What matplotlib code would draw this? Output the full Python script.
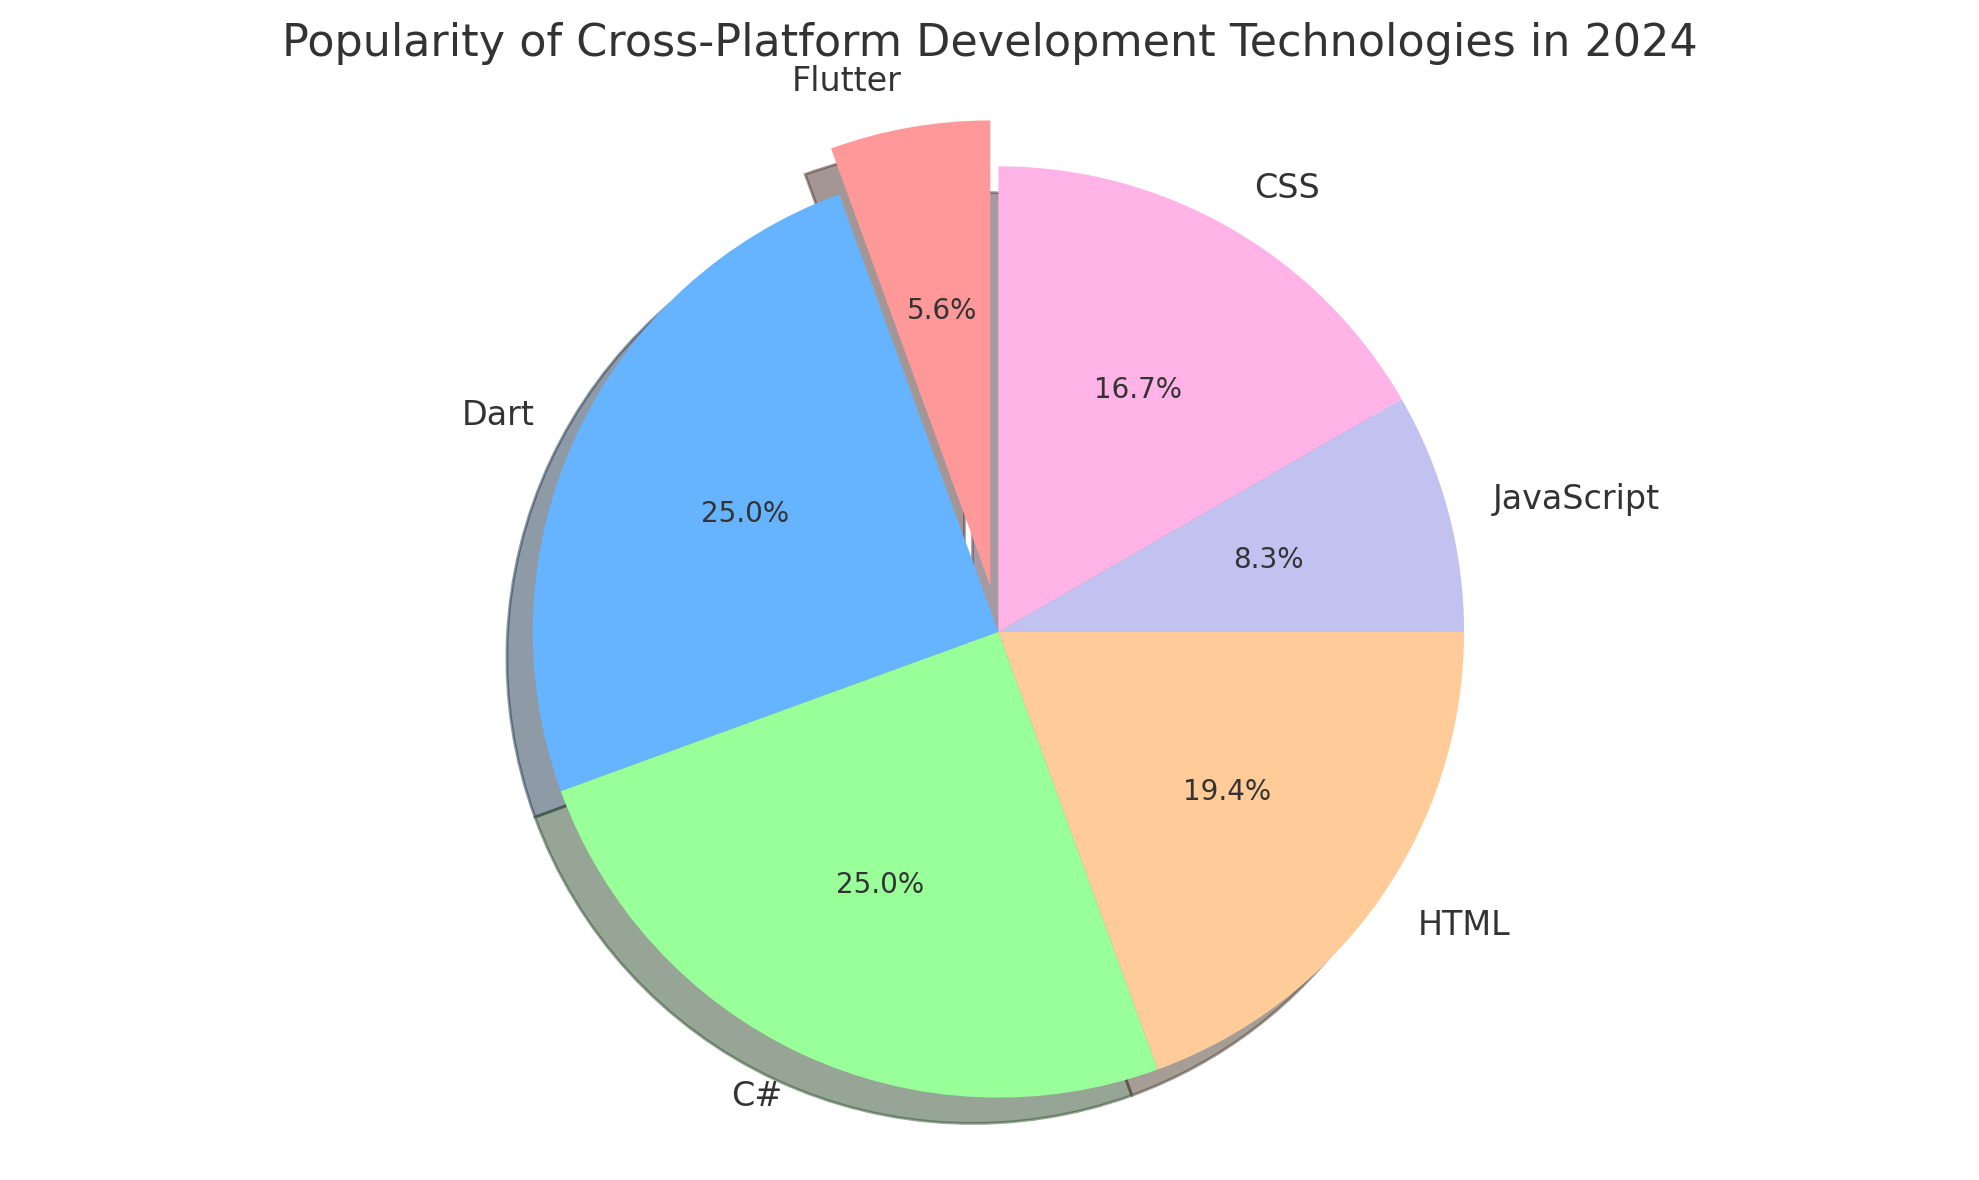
import matplotlib.pyplot as plt

# Dados do gráfico
labels = ['Flutter', 'Dart', 'C#', 'HTML', 'JavaScript', 'CSS']
sizes = [2, 9, 9, 7, 3, 6]
colors = ['#ff9999', '#66b3ff', '#99ff99', '#ffcc99', '#c2c2f0', '#ffb3e6']
explode = (0.1, 0, 0, 0, 0, 0)

plt.rcParams['text.color'] = '#333333'

fig, ax = plt.subplots(figsize=(9.895, 5.9), dpi=200)
wedges, texts, autotexts = ax.pie(sizes, explode=explode, labels=labels, colors=colors,
                                  autopct='%1.1f%%', shadow=True, startangle=90,
                                  textprops={'fontsize': 12})
for t in autotexts:
    t.set_fontsize(10)
ax.axis('equal')
ax.set_title('Popularity of Cross-Platform Development Technologies in 2024',
             fontsize=16, color='#333333', pad=4)

plt.tight_layout()
# pequeno ajuste de posição
dx, dy = 0.0045, 0.003
pos = ax.get_position()
ax.set_position([pos.x0 + dx, pos.y0 + dy, pos.width, pos.height])
ax.title.set_x(0.5 - dx / pos.width)
ax._autotitlepos = False
ax.title.set_y(1.004)
plt.savefig('out.png')
